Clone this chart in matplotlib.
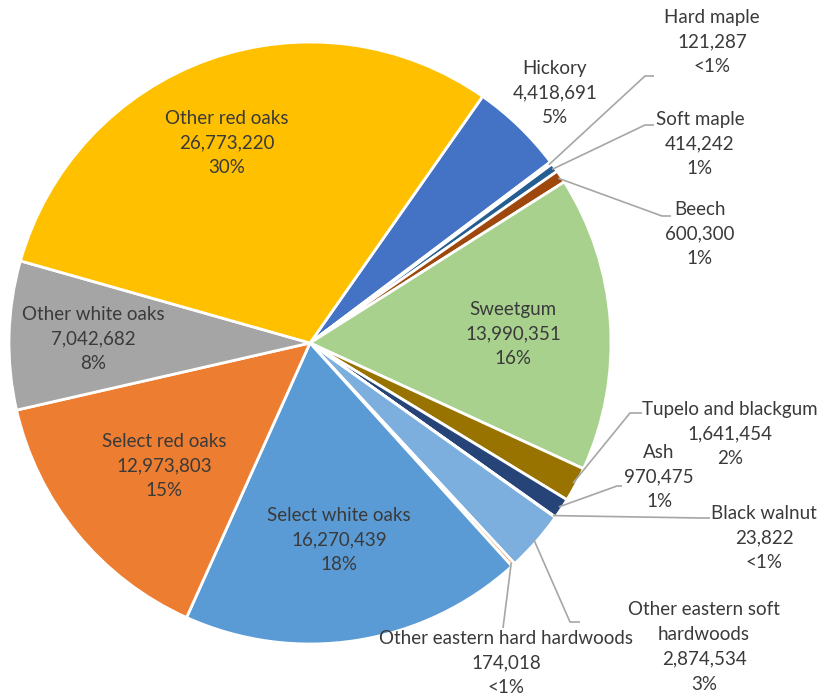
import matplotlib
matplotlib.use('Agg')
import numpy as np
import matplotlib.pyplot as plt

plt.rcParams['font.family'] = ['Lato', 'DejaVu Sans']

species = ['Hickory', 'Hard maple', 'Soft maple', 'Beech', 'Sweetgum',
           'Tupelo and blackgum', 'Ash', 'Black walnut',
           'Other eastern soft\nhardwoods', 'Other eastern hard hardwoods',
           'Select white oaks', 'Select red oaks', 'Other white oaks',
           'Other red oaks']
volumes = [4418691, 121287, 414242, 600300, 13990351, 1641454, 970475,
           23822, 2874534, 174018, 16270439, 12973803, 7042682, 26773220]
pct_labels = ['5%', '<1%', '1%', '1%', '16%', '2%', '1%', '<1%', '3%',
              '<1%', '18%', '15%', '8%', '30%']
colors = ['#4472C4', '#70AD47', '#255E91', '#9E480E', '#A9D18E', '#997300',
          '#264478', '#636363', '#7CAFDD', '#F1975A', '#5B9BD5', '#ED7D31',
          '#A5A5A5', '#FFC000']

W, H = 825, 695
cx, cy, R = 310, H - 343, 301
start = 55

# label centres in pixel coords (x, y from top)
label_pos = {
    'Hickory': (555, 93), 'Hard maple': (712, 42), 'Soft maple': (700, 144),
    'Beech': (700, 234), 'Sweetgum': (513, 334),
    'Tupelo and blackgum': (730, 434), 'Ash': (659, 477),
    'Black walnut': (764, 538), 'Other eastern soft\nhardwoods': (704, 647),
    'Other eastern hard hardwoods': (506, 663),
    'Select white oaks': (339, 540), 'Select red oaks': (164, 466),
    'Other white oaks': (93, 339), 'Other red oaks': (227, 143),
}
# leader elbows (x, y from top) and end x
leaders = {
    'Hard maple': ((645, 76), 654), 'Soft maple': ((645, 125), 654),
    'Beech': ((662, 216), 671), 'Tupelo and blackgum': ((630, 413), 642),
    'Ash': ((617, 486), 622), 'Black walnut': ((700, 518), 710),
    'Other eastern soft\nhardwoods': ((570, 622), 580),
    'Other eastern hard hardwoods': ((503, 628), 503),
}

fig = plt.figure(figsize=(W / 100, H / 100), dpi=100)
ax = fig.add_axes([0, 0, 1, 1])

wedges, _ = ax.pie(volumes, colors=colors, startangle=start,
                   counterclock=False, center=(cx, cy), radius=R,
                   wedgeprops=dict(edgecolor='white', linewidth=2))
ax.set_xlim(0, W)
ax.set_ylim(0, H)
ax.set_aspect('equal')
ax.axis('off')

for w, name, v, p in zip(wedges, species, volumes, pct_labels):
    x, y = label_pos[name]
    txt = '{}\n{:,}\n{}'.format(name, v, p)
    ax.text(x, H - y, txt, ha='center', va='center', fontsize=13.5,
            color='#3a3a3a', linespacing=1.55)
    if name in leaders:
        mid = np.deg2rad((w.theta1 + w.theta2) / 2)
        sx = cx + 0.99 * R * np.cos(mid)
        sy = cy + 0.99 * R * np.sin(mid)
        (ex, ey), endx = leaders[name]
        ax.plot([sx, ex, endx], [sy, H - ey, H - ey], color='#A6A6A6',
                lw=1.2, solid_capstyle='butt')

fig.savefig('out.png', dpi=100, facecolor='white')
